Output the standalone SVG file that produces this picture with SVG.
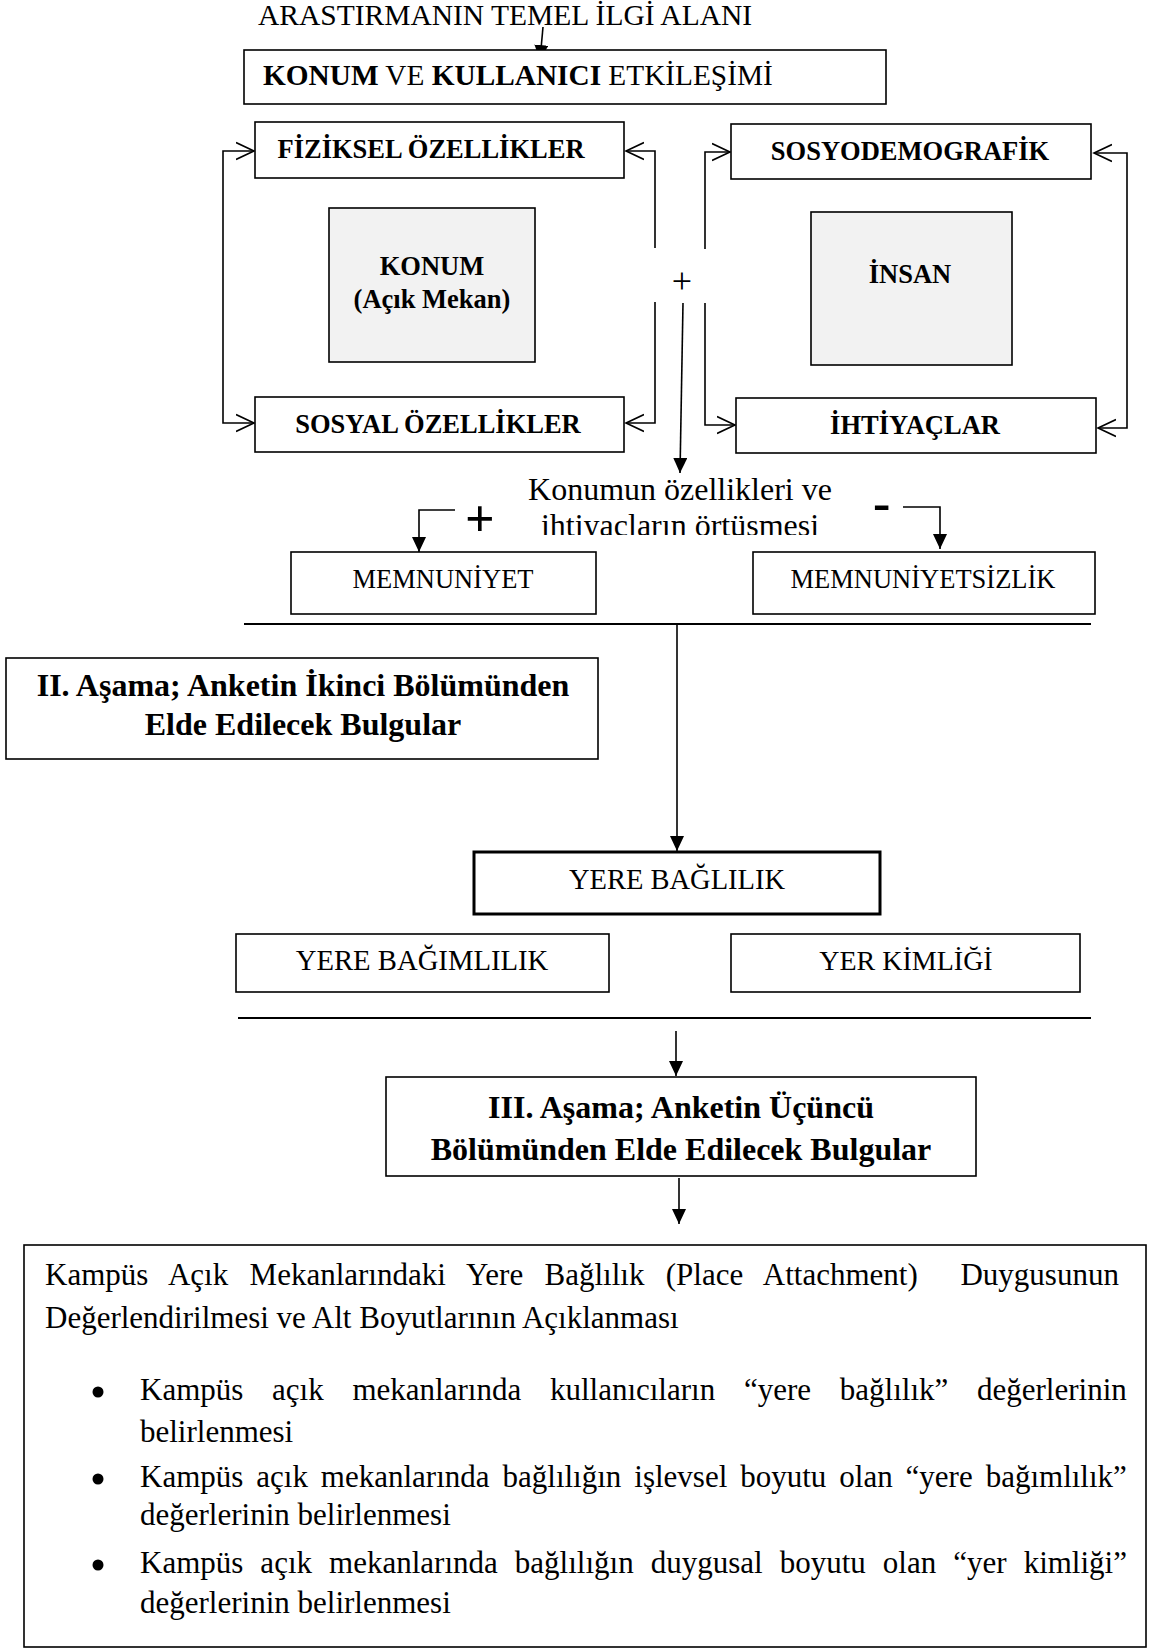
<svg xmlns="http://www.w3.org/2000/svg" width="1153" height="1650" viewBox="0 0 1153 1650">
  <defs>
    <style>
      text { font-family: "Liberation Serif", "Times New Roman", serif; fill: #000; }
      .b { font-weight: bold; }
      .c { text-anchor: middle; }
      .box { fill: #fff; stroke: #000; stroke-width: 1.6; }
      .grey { fill: #f2f2f2; stroke: #000; stroke-width: 1.6; }
      .thick { fill: #fff; stroke: #000; stroke-width: 3; }
      .ln { fill: none; stroke: #000; stroke-width: 1.6; }
      .rule { fill: none; stroke: #000; stroke-width: 2; }
      .arr { marker-end: url(#solid); }
      .open { marker-end: url(#open); }
      .open2 { marker-start: url(#open); marker-end: url(#open); }
      .dot { fill: #000; }
    </style>
    <marker id="solid" markerUnits="userSpaceOnUse" markerWidth="15" markerHeight="14" refX="15" refY="7" orient="auto" viewBox="0 0 15 14">
      <path d="M0,0 L15,7 L0,14 Z" fill="#000"/>
    </marker>
    <marker id="open" markerUnits="userSpaceOnUse" markerWidth="20" markerHeight="20" refX="18" refY="10" orient="auto-start-reverse" viewBox="0 0 20 20">
      <path d="M0,1.5 L18,10 L0,18.5" fill="none" stroke="#000" stroke-width="1.6"/>
    </marker>
    <!-- the second caption line is cut off at its baseline -->
    <clipPath id="cut">
      <rect x="400" y="470" width="560" height="65"/>
    </clipPath>
  </defs>

  <rect width="1153" height="1650" fill="#fff"/>

  <!-- connectors -->
  <g id="connectors">
    <path class="ln arr" d="M543,27 L540,60"/>
    <!-- location side -->
    <path class="ln open2" d="M254,151 H223 V423 H254"/>
    <path class="ln open" d="M655,248 V151 H626"/>
    <path class="ln open" d="M655,302 V423 H626"/>
    <!-- person side -->
    <path class="ln open" d="M705,249 V152 H730"/>
    <path class="ln open" d="M705,303 V425 H735"/>
    <path class="ln open2" d="M1094,153 H1127 V428 H1098"/>
    <!-- overlap of features and needs -->
    <path class="ln arr" d="M683,303 L680,473"/>
    <path class="ln arr" d="M455,510 H419 V552"/>
    <path class="ln arr" d="M903,507 H940 V549"/>
    <path class="rule" d="M244,624 H1091"/>
    <path class="ln arr" d="M677,624 V851"/>
    <path class="rule" d="M238,1018 H1091"/>
    <path class="ln arr" d="M676,1031 V1076"/>
    <path class="ln arr" d="M679,1178 V1224"/>
  </g>

  <!-- heading -->
  <g id="heading">
    <text x="258" y="25" font-size="29.5">ARASTIRMANIN TEMEL İLGİ ALANI</text>
  </g>

  <g id="interaction">
    <rect class="box" x="244" y="50" width="642" height="54"/>
    <text x="263" y="85" font-size="29.3"><tspan class="b">KONUM</tspan> VE <tspan class="b">KULLANICI</tspan> ETKİLEŞİMİ</text>
  </g>

  <g id="physical">
    <rect class="box" x="255" y="122" width="369" height="56"/>
    <text class="b c" x="431" y="158" font-size="26.5">FİZİKSEL ÖZELLİKLER</text>
  </g>

  <g id="location">
    <rect class="grey" x="329" y="208" width="206" height="154"/>
    <text class="b c" x="432" y="275" font-size="26.5">KONUM</text>
    <text class="b c" x="432" y="308" font-size="26.5">(Açık Mekan)</text>
  </g>

  <g id="social">
    <rect class="box" x="255" y="397" width="369" height="55"/>
    <text class="b c" x="438" y="433" font-size="26.5">SOSYAL ÖZELLİKLER</text>
  </g>

  <g id="sociodemographic">
    <rect class="box" x="731" y="124" width="360" height="55"/>
    <text class="b c" x="910" y="160" font-size="26.5">SOSYODEMOGRAFİK</text>
  </g>

  <g id="person">
    <rect class="grey" x="811" y="212" width="201" height="153"/>
    <text class="b c" x="910" y="283" font-size="26.5">İNSAN</text>
  </g>

  <g id="needs">
    <rect class="box" x="736" y="398" width="360" height="55"/>
    <text class="b c" x="915" y="434" font-size="26.5">İHTİYAÇLAR</text>
  </g>

  <g id="plus-sign">
    <text class="c" x="682" y="293" font-size="36">+</text>
  </g>

  <g id="overlap">
    <text class="c" x="680" y="500" font-size="32">Konumun özellikleri ve</text>
    <text class="c" x="680" y="536" font-size="32" clip-path="url(#cut)">ihtiyacların örtüşmesi</text>
    <text class="b" x="465" y="536" font-size="52">+</text>
    <text class="b" x="873" y="520" font-size="52">-</text>
  </g>

  <g id="satisfaction">
    <rect class="box" x="291" y="552" width="305" height="62"/>
    <text class="c" x="443" y="588" font-size="26.5">MEMNUNİYET</text>
  </g>

  <g id="dissatisfaction">
    <rect class="box" x="753" y="552" width="342" height="62"/>
    <text class="c" x="923" y="588" font-size="26.5">MEMNUNİYETSİZLİK</text>
  </g>

  <g id="stage-2">
    <rect class="box" x="6" y="658" width="592" height="101"/>
    <text class="b c" x="303" y="696" font-size="32">II. Aşama; Anketin İkinci Bölümünden</text>
    <text class="b c" x="303" y="735" font-size="32">Elde Edilecek Bulgular</text>
  </g>

  <g id="place-attachment">
    <rect class="thick" x="474" y="852" width="406" height="62"/>
    <text class="c" x="677" y="889" font-size="28.5">YERE BAĞLILIK</text>
  </g>

  <g id="place-dependence">
    <rect class="box" x="236" y="934" width="373" height="58"/>
    <text class="c" x="422" y="970" font-size="28.7">YERE BAĞIMLILIK</text>
  </g>

  <g id="place-identity">
    <rect class="box" x="731" y="934" width="349" height="58"/>
    <text class="c" x="906" y="970" font-size="28">YER KİMLİĞİ</text>
  </g>

  <g id="stage-3">
    <rect class="box" x="386" y="1077" width="590" height="99"/>
    <text class="b c" x="681" y="1118" font-size="32">III. Aşama; Anketin Üçüncü</text>
    <text class="b c" x="681" y="1160" font-size="32">Bölümünden Elde Edilecek Bulgular</text>
  </g>

  <g id="summary">
    <rect class="box" x="24" y="1245" width="1122" height="402"/>
    <text x="45" y="1285" font-size="31" word-spacing="13.6" style="white-space:pre">Kampüs Açık Mekanlarındaki Yere Bağlılık (Place Attachment)  Duygusunun</text>
    <text x="45" y="1328" font-size="31">Değerlendirilmesi ve Alt Boyutlarının Açıklanması</text>
    <circle class="dot" cx="98" cy="1392" r="5.5"/>
    <text x="140" y="1400" font-size="31" word-spacing="21">Kampüs açık mekanlarında kullanıcıların “yere bağlılık” değerlerinin</text>
    <text x="140" y="1442" font-size="31">belirlenmesi</text>
    <circle class="dot" cx="98" cy="1479" r="5.5"/>
    <text x="140" y="1487" font-size="31" word-spacing="5.2">Kampüs açık mekanlarında bağlılığın işlevsel boyutu olan “yere bağımlılık”</text>
    <text x="140" y="1525" font-size="31">değerlerinin belirlenmesi</text>
    <circle class="dot" cx="98" cy="1565" r="5.5"/>
    <text x="140" y="1573" font-size="31" word-spacing="9.3">Kampüs açık mekanlarında bağlılığın duygusal boyutu olan “yer kimliği”</text>
    <text x="140" y="1613" font-size="31">değerlerinin belirlenmesi</text>
  </g>
</svg>
